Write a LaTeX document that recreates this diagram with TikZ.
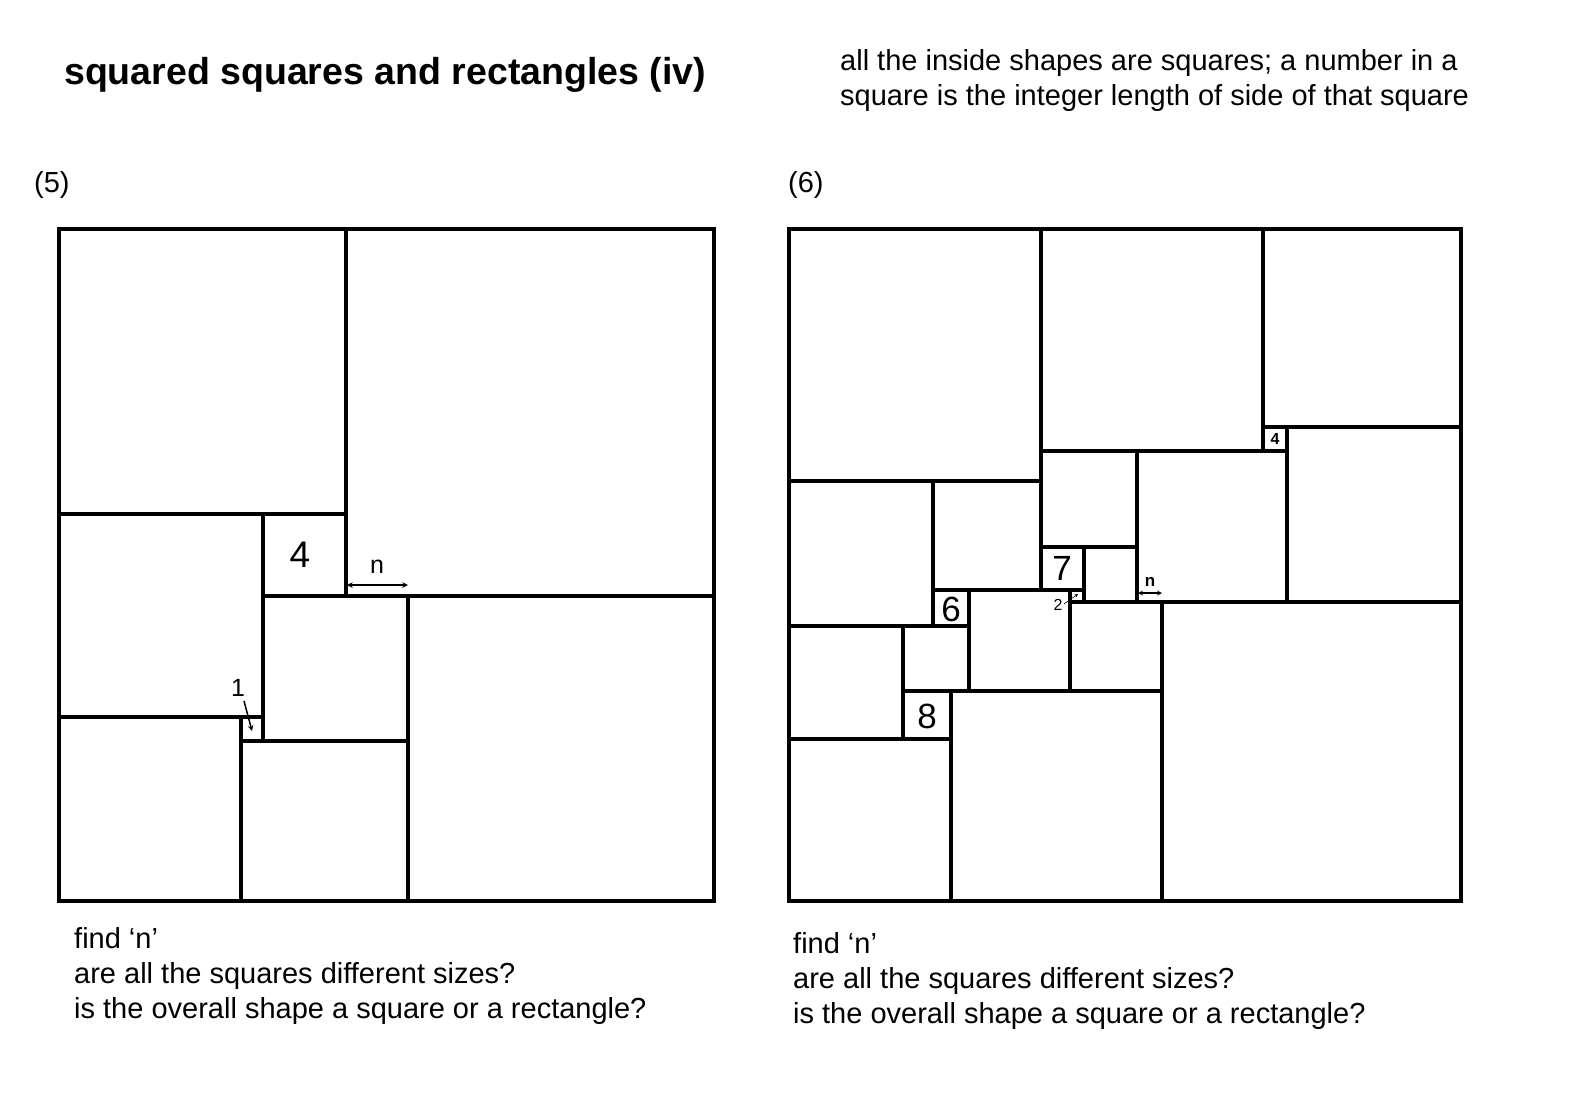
\documentclass[tikz,border=0pt]{standalone}
\usepackage{fontspec}
\setmainfont{Liberation Sans}
\begin{document}
\begin{tikzpicture}[x=1pt,y=-1pt,
  edge/.style={line width=3.2pt},
  txt/.style={anchor=west,inner sep=0,font=\fontsize{29}{35}\selectfont},
  big/.style={inner sep=0,font=\fontsize{37}{37}\selectfont},
  small/.style={inner sep=0,font=\fontsize{16}{16}\selectfont},
  dim/.style={line width=1.5pt,<->,>=stealth}]
\useasboundingbox (0,0) rectangle (1570,1092);
\node[txt,font=\bfseries\fontsize{37.5}{37.5}\selectfont] (title) at (64,75) {squared squares and rectangles (iv)};
\node[txt,align=left] (intro) at (840,81) {all the inside shapes are squares; a number in a\\square is the integer length of side of that square};
\node[txt] (l5) at (34,185) {(5)};
\node[txt] (l6) at (788,185) {(6)};
% ---- (5)
\draw[edge] (59,229) rectangle (714,901);
\draw[edge] (346,229) -- (346,596);
\draw[edge] (59,514) -- (346,514);
\draw[edge] (263,514) -- (263,741);
\draw[edge] (263,596) -- (714,596);
\draw[edge] (408,596) -- (408,901);
\draw[edge] (59,717) -- (263,717);
\draw[edge] (241,717) -- (241,901);
\draw[edge] (241,741) -- (408,741);
\node[big] (f4) at (300,555) {4};
\coordinate (na) at (347,585); \coordinate (nb) at (408,585);
\draw[dim] (na) -- (nb);
\node[small,font=\fontsize{25}{25}\selectfont] (n5) at (377,567) {n};
\node[small,font=\fontsize{25}{25}\selectfont] (one) at (238,688) {1};
\coordinate (oa) at (244,701); \coordinate (ob) at (252,731);
\draw[line width=1.5pt,->,>=stealth] (oa) -- (ob);
% ---- (6)
\draw[edge] (789,229) rectangle (1461,901);
\draw[edge] (789,481) -- (1041,481);
\draw[edge] (1041,229) -- (1041,590);
\draw[edge] (1041,451) -- (1287,451);
\draw[edge] (1263,229) -- (1263,451);
\draw[edge] (1263,427) -- (1461,427);
\draw[edge] (1287,427) -- (1287,602);
\draw[edge] (1137,451) -- (1137,602);
\draw[edge] (1041,547) -- (1137,547);
\draw[edge] (1084,547) -- (1084,602);
\draw[edge] (933,590) -- (1084,590);
\draw[edge] (1070,590) -- (1070,691);
\draw[edge] (1070,602) -- (1461,602);
\draw[edge] (1162,602) -- (1162,901);
\draw[edge] (933,481) -- (933,626);
\draw[edge] (969,590) -- (969,691);
\draw[edge] (789,626) -- (969,626);
\draw[edge] (903,626) -- (903,739);
\draw[edge] (903,691) -- (1162,691);
\draw[edge] (951,691) -- (951,901);
\draw[edge] (789,739) -- (951,739);
\node[big,font=\fontsize{35}{35}\selectfont] (s7) at (1062,568) {7};
\node[big,font=\fontsize{35}{35}\selectfont] (s6) at (951,609) {6};
\node[big,font=\fontsize{35}{35}\selectfont] (s8) at (927,716) {8};
\node[small,font=\bfseries\fontsize{16}{16}\selectfont] (s4) at (1275,439) {4};
\node[small] (s2) at (1058,605) {2};
\coordinate (ta) at (1064,604); \coordinate (tb) at (1078,594);
\draw[line width=0.6pt,->,>=stealth] (ta) -- (tb);
\coordinate (ma) at (1138,593); \coordinate (mb) at (1162,593);
\draw[line width=1.2pt,<->,>=stealth] (ma) -- (mb);
\node[small,font=\bfseries\fontsize{17}{17}\selectfont] (n6) at (1150,582) {n};
% ---- questions
\node[txt,align=left] (q5) at (74,976) {find ‘n’\\are all the squares different sizes?\\is the overall shape a square or a rectangle?};
\node[txt,align=left] (q6) at (793,981) {find ‘n’\\are all the squares different sizes?\\is the overall shape a square or a rectangle?};
\end{tikzpicture}
\end{document}
